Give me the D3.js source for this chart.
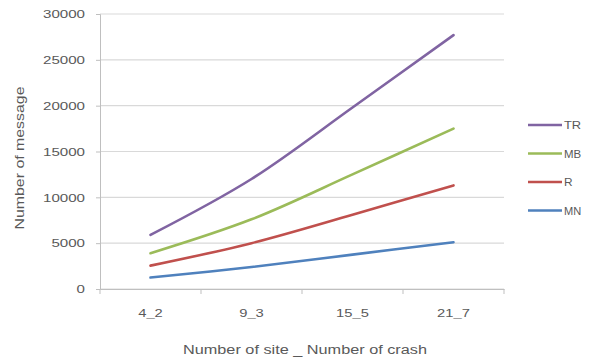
<!DOCTYPE html>
<html>
<head>
<meta charset="utf-8">
<script src="https://cdn.jsdelivr.net/npm/d3@7/dist/d3.min.js"></script>
<style>
  html, body { margin: 0; padding: 0; background: #fff; }
  svg text { font-family: "Liberation Sans", Arial, sans-serif; fill: #595959; }
</style>
</head>
<body>
<svg id="chart" width="594" height="362"></svg>
<script>
// Categories: number of sites _ number of crashes
const categories = ["4_2", "9_3", "15_5", "21_7"];
const seriesNames = ["TR", "MB", "R", "MN"];
const trValues = [5900, 12000, 19800, 27700];
const mbValues = [3900, 7600, 12500, 17500];
const rValues  = [2550, 5000, 8100, 11300];
const mnValues = [1250, 2400, 3750, 5100];
const yTicks = [0, 5000, 10000, 15000, 20000, 25000, 30000];
const seriesColors = ["#8064A2", "#9BBB59", "#C0504D", "#4F81BD"];

const series = [
  { name: seriesNames[0], values: trValues, color: seriesColors[0] },
  { name: seriesNames[1], values: mbValues, color: seriesColors[1] },
  { name: seriesNames[2], values: rValues,  color: seriesColors[2] },
  { name: seriesNames[3], values: mnValues, color: seriesColors[3] }
];

const svg = d3.select("#chart");
const plot = { left: 100, right: 504, top: 14, bottom: 289 };

const x = d3.scaleBand().domain(categories).range([plot.left, plot.right]);
const y = d3.scaleLinear().domain([0, 30000]).range([plot.bottom, plot.top]);

// Horizontal gridlines
svg.append("g")
  .selectAll("line")
  .data(yTicks)
  .join("line")
  .attr("x1", plot.left).attr("x2", plot.right)
  .attr("y1", d => y(d)).attr("y2", d => y(d))
  .attr("stroke", "#d9d9d9").attr("stroke-width", 1.2);

// Y axis
const yAxis = svg.append("g")
  .attr("transform", `translate(${plot.left},0)`)
  .call(d3.axisLeft(y).tickValues(yTicks).tickSize(4).tickPadding(11).tickFormat(d3.format("d")));
yAxis.select(".domain").attr("stroke", "#bfbfbf");
yAxis.selectAll(".tick line").attr("stroke", "#bfbfbf");
yAxis.selectAll(".tick text")
  .style("font-size", "11.5px")
  .attr("textLength", d => String(d).length * 8.4)
  .attr("lengthAdjust", "spacingAndGlyphs");

// X axis (ticks on band boundaries)
const xAxis = svg.append("g")
  .attr("transform", `translate(0,${plot.bottom})`)
  .call(d3.axisBottom(x).tickSize(0).tickPadding(20));
xAxis.select(".domain").attr("stroke", "#bfbfbf");
xAxis.selectAll(".tick text")
  .style("font-size", "11.5px")
  .attr("dx", "0")
  .attr("textLength", d => d.length * 8.2)
  .attr("lengthAdjust", "spacingAndGlyphs");
const boundaries = categories.map(c => x(c)).concat([x.range()[1]]);
xAxis.append("g")
  .selectAll("line")
  .data(boundaries)
  .join("line")
  .attr("x1", d => d).attr("x2", d => d)
  .attr("y1", 0).attr("y2", 5)
  .attr("stroke", "#bfbfbf");

// Series lines
const line = d3.line()
  .x((d, i) => x(categories[i]) + x.bandwidth() / 2)
  .y(d => y(d))
  .curve(d3.curveCatmullRom.alpha(0.5));

svg.append("g")
  .selectAll("path")
  .data(series)
  .join("path")
  .attr("d", s => line(s.values))
  .attr("fill", "none")
  .attr("stroke", s => s.color)
  .attr("stroke-width", 2.6)
  .attr("stroke-linecap", "round");

// Legend
const legend = svg.append("g")
  .selectAll("g")
  .data(series)
  .join("g")
  .attr("transform", (s, i) => `translate(528,${125 + i * 28.5})`);
legend.append("line")
  .attr("x1", 0).attr("x2", 34)
  .attr("stroke", s => s.color)
  .attr("stroke-width", 2.6);
legend.append("text")
  .attr("x", 36).attr("dy", "0.35em")
  .style("font-size", "11.5px")
  .attr("textLength", s => s.name.length * 8.6)
  .attr("lengthAdjust", "spacingAndGlyphs")
  .text(s => s.name);

// Axis titles
svg.append("text")
  .attr("x", 305).attr("y", 354)
  .attr("text-anchor", "middle")
  .style("font-size", "12.5px")
  .attr("textLength", 244)
  .attr("lengthAdjust", "spacingAndGlyphs")
  .text("Number of site _ Number of crash");

svg.append("text")
  .attr("transform", "translate(24,158) rotate(-90)")
  .attr("text-anchor", "middle")
  .style("font-size", "12.5px")
  .attr("textLength", 143)
  .attr("lengthAdjust", "spacingAndGlyphs")
  .text("Number of message");
</script>
</body>
</html>
